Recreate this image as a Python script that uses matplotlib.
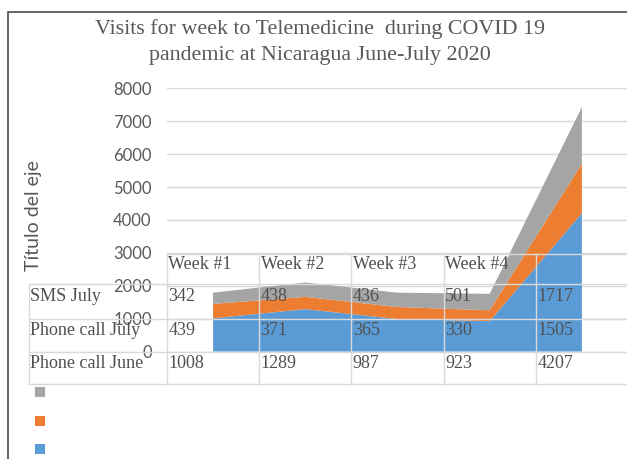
import matplotlib
matplotlib.use('Agg')
import matplotlib.pyplot as plt
from matplotlib.patches import Rectangle
import numpy as np

# data
weeks = ['Week #1', 'Week #2', 'Week #3', 'Week #4', '']
series_names = ['SMS July', 'Phone call July', 'Phone call June']
phone_june = [1008, 1289, 987, 923, 4207]
phone_july = [439, 371, 365, 330, 1505]
sms_july = [342, 438, 436, 501, 1717]
yticks = [0, 1000, 2000, 3000, 4000, 5000, 6000, 7000, 8000]

blue = '#5B9BD5'
orange = '#ED7D31'
gray = '#A5A5A5'
W, H = 627, 459

fig = plt.figure(figsize=(W / 100, H / 100), dpi=100)
fig.patch.set_facecolor('white')

# outer chart border (cut by the image edge on the right/bottom)
fig.add_artist(Rectangle((8 / W, -0.05), 1.0, 1 - 12 / H + 0.05, transform=fig.transFigure,
                         fill=False, edgecolor='#595959', linewidth=1.3))

ax = fig.add_axes([167 / W, 1 - 351.5 / H, (628 - 167) / W, (351.5 - 88.3) / H])
x = np.arange(len(weeks))
ax.stackplot(x, phone_june, phone_july, sms_july, colors=[blue, orange, gray], zorder=2)
ax.set_xlim(-0.5, 4.5)
ax.set_ylim(0, 8000)
ax.set_yticks(yticks)
ax.set_yticklabels([str(v) for v in yticks], fontfamily='Lato', fontsize=12, color='#595959')
ax.set_xticks([])
ax.tick_params(axis='y', length=0, pad=11)
for s in ax.spines.values():
    s.set_visible(False)
ax.grid(axis='y', color='#d9d9d9', linewidth=1.0, zorder=0)
ax.set_axisbelow(True)

fig.text(33 / W, 1 - 216 / H, 'Título del eje', rotation=90, ha='center', va='center',
         fontfamily='Lato', fontsize=14, color='#595959')

fig.text(320 / W, 1 - 42 / H, 'Visits for week to Telemedicine  during COVID 19\npandemic at Nicaragua June-July 2020',
         ha='center', va='center', fontfamily='Liberation Serif', fontsize=15.8, color='#595959',
         linespacing=1.55)

# data table drawn over the plot (rows in data units of the y axis)
row_lines = [2960, 2050, 990, -15, -990]
text_y = [2640, 1657, 650, -350]
line_kw = dict(color='#d9d9d9', linewidth=1.0, clip_on=False, zorder=5)
tkw = dict(fontfamily='Liberation Serif', fontsize=13, color='#505050', ha='left',
           va='center', clip_on=False, zorder=6)

ax.plot([-0.5, 4.5], [row_lines[0]] * 2, **line_kw)
for yl in row_lines[1:]:
    ax.plot([-2.0, 4.5], [yl] * 2, **line_kw)
ax.plot([-2.0, -2.0], [row_lines[1], row_lines[-1]], **line_kw)
for i in range(len(weeks)):
    ax.plot([i - 0.5, i - 0.5], [row_lines[0], row_lines[-1]], **line_kw)

for i, w in enumerate(weeks):
    ax.text(i - 0.485, text_y[0], w, **tkw)
rows = [sms_july, phone_july, phone_june]
for r, (name, vals) in enumerate(zip(series_names, rows)):
    ax.text(-1.99, text_y[r + 1], name, **tkw)
    for i, v in enumerate(vals):
        ax.text(i - 0.485, text_y[r + 1], str(v), **tkw)

# legend keys without labels
for c, yc in zip([gray, orange, blue], [392, 421, 449]):
    fig.add_artist(Rectangle((35 / W, 1 - (yc + 5) / H), 10 / W, 10 / H,
                             transform=fig.transFigure, facecolor=c, edgecolor='none'))

fig.savefig('out.png', dpi=100)
